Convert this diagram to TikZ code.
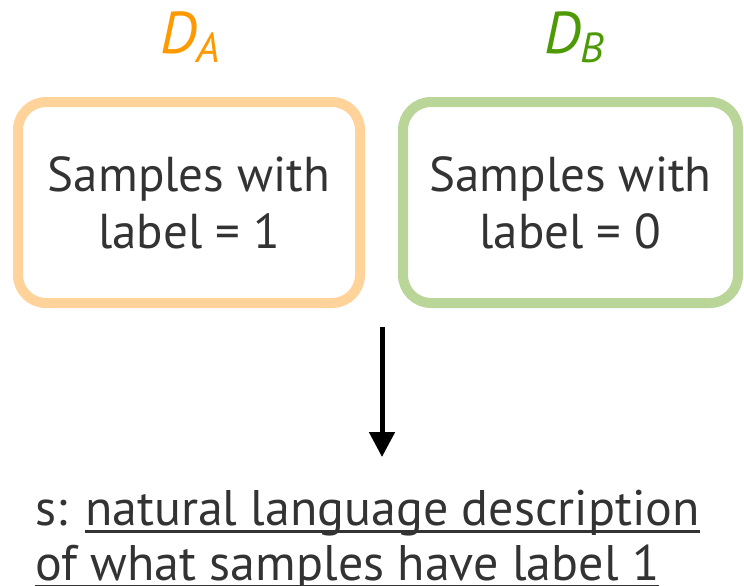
\documentclass[tikz,border=0pt]{standalone}
\usepackage{fontspec}
\setmainfont{PT Sans}
\usetikzlibrary{arrows.meta}

\definecolor{txt}{HTML}{333333}
\definecolor{orangeline}{HTML}{FFD399}
\definecolor{orangetitle}{HTML}{FF9900}
\definecolor{greenline}{HTML}{B9D598}
\definecolor{greentitle}{HTML}{4E9A06}

% underline drawn as a rule under the whole phrase
\newsavebox\ulphrase
\newcommand\ulin[1]{\sbox\ulphrase{#1}\rlap{\rule[-7.5pt]{\wd\ulphrase}{3pt}}\usebox\ulphrase}

\tikzset{
  setbox/.style={draw=#1, line width=10pt, rounded corners=28pt,
    text=txt, align=center, inner sep=0pt,
    font=\fontsize{49}{57}\selectfont, minimum height=201pt},
  settitle/.style={text=#1, inner sep=0pt, anchor=base,
    font=\fontsize{59}{59}\selectfont\itshape},
  desc/.style={text=txt, inner sep=0pt, anchor=base west,
    font=\fontsize{50}{55}\selectfont},
}

\begin{document}
\begin{tikzpicture}[x=1pt, y=-1pt]
  \useasboundingbox (0,0) rectangle (744,586);

  % the two sample sets
  \node[setbox=orangeline, minimum width=342pt] (boxA) at (189,202.5)
    {Samples with\\label = 1};
  \node[setbox=greenline, minimum width=335pt] (boxB) at (570.5,202.5)
    {Samples with\\label = 0};

  % set names
  \node[settitle=orangetitle] (titleA) at (190,54)
    {D\kern-1pt\raisebox{-9pt}{\fontsize{42}{42}\selectfont A}};
  \node[settitle=greentitle] (titleB) at (574.5,54)
    {D\kern-1pt\raisebox{-9pt}{\fontsize{42}{42}\selectfont B}};

  % arrow to the description
  \coordinate (arrowtop) at (382,327);
  \coordinate (arrowtip) at (382,457);
  \draw[line width=5pt, -{Triangle[width=25pt,length=25pt]}] (arrowtop) -- (arrowtip);

  % the description
  \node[desc] (line1) at (35,525) {s: \ulin{natural language description}};
  \node[desc] (line2) at (35,580) {\ulin{of what samples have label 1}};
\end{tikzpicture}
\end{document}
